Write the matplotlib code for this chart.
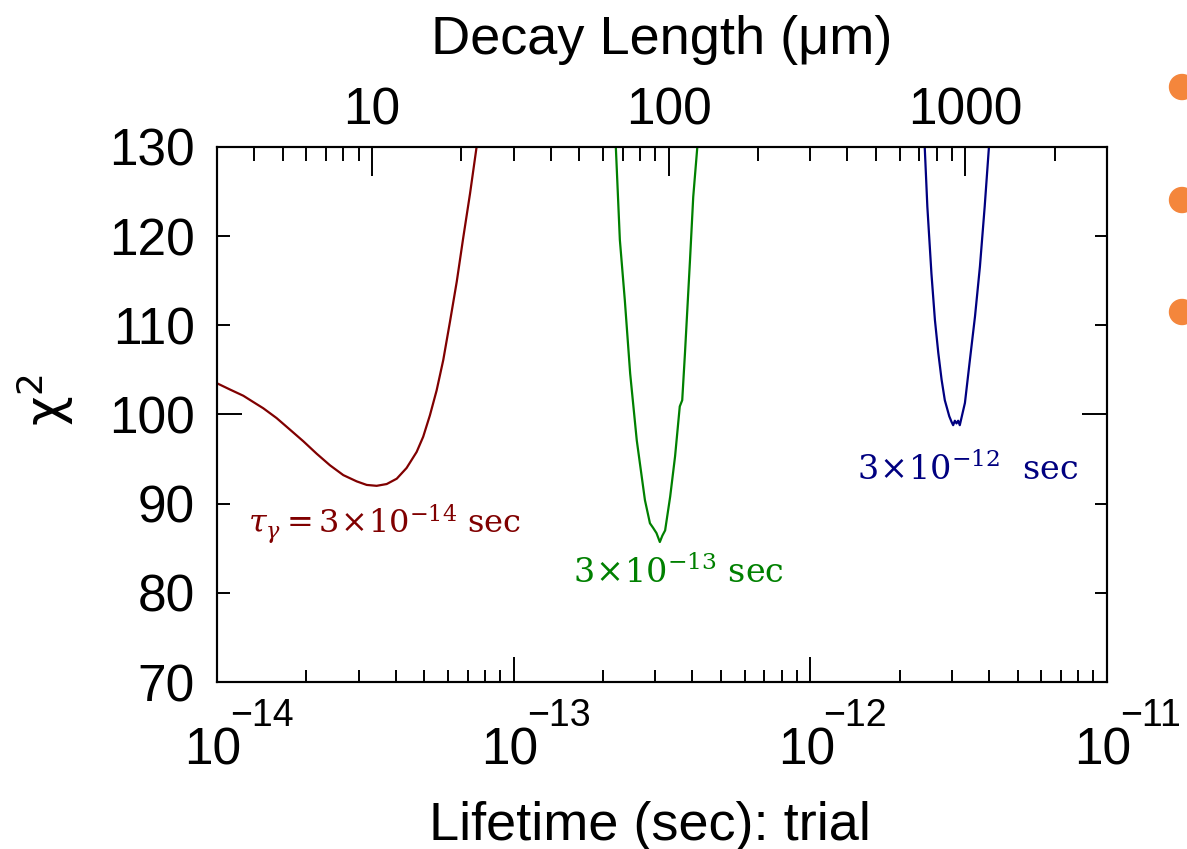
import matplotlib
matplotlib.use('Agg')
import matplotlib.pyplot as plt
from matplotlib import transforms
from matplotlib.patches import Ellipse
from matplotlib.ticker import MultipleLocator, NullFormatter, FuncFormatter, LogLocator

plt.rcParams['font.family'] = ['Liberation Sans', 'DejaVu Sans']

# chi^2 of the fit vs. trial lifetime, one scan per generated lifetime
life_a = [1.00e-14, 1.106e-14, 1.227e-14, 1.325e-14, 1.432e-14, 1.588e-14, 1.762e-14,
          1.954e-14, 2.168e-14, 2.404e-14, 2.666e-14, 2.957e-14, 3.197e-14, 3.453e-14,
          3.733e-14, 4.036e-14, 4.356e-14, 4.710e-14, 4.955e-14, 5.22e-14, 5.50e-14,
          5.79e-14, 6.10e-14, 6.43e-14, 6.76e-14, 7.13e-14, 7.50e-14]
chi2_a = [103.5, 102.8, 102.1, 101.4, 100.7, 99.6, 98.3,
          97.0, 95.6, 94.3, 93.2, 92.5, 92.1, 92.0,
          92.2, 92.8, 94.0, 95.8, 97.5, 99.9, 102.7,
          106.1, 110.4, 114.9, 119.8, 124.8, 130.0]

life_b = [2.21e-13, 2.28e-13, 2.37e-13, 2.47e-13, 2.60e-13, 2.77e-13, 2.88e-13, 2.95e-13,
          3.03e-13, 3.11e-13, 3.17e-13, 3.24e-13, 3.37e-13, 3.50e-13, 3.63e-13, 3.70e-13,
          3.78e-13, 3.93e-13, 4.03e-13, 4.16e-13]
chi2_b = [130.0, 119.6, 112.8, 104.6, 97.1, 90.4, 87.8, 87.3,
          86.7, 85.7, 86.4, 87.0, 90.8, 95.3, 100.9, 101.6,
          106.9, 117.3, 124.4, 130.0]

life_c = [2.43e-12, 2.48e-12, 2.56e-12, 2.63e-12, 2.70e-12, 2.77e-12, 2.84e-12, 2.94e-12,
          2.99e-12, 3.03e-12, 3.07e-12, 3.11e-12, 3.15e-12, 3.19e-12, 3.32e-12, 3.45e-12,
          3.59e-12, 3.73e-12, 3.87e-12, 4.00e-12]
chi2_c = [130.0, 123.3, 115.8, 110.6, 106.9, 103.9, 101.6, 99.8,
          99.2, 98.8, 99.3, 99.0, 99.3, 98.8, 101.3, 106.1,
          111.0, 116.6, 123.3, 130.0]

x_exponents = [-14, -13, -12, -11]
top_ticks = [10, 100, 1000]

C_UM = 3e14  # speed of light in um/s

fig = plt.figure(figsize=(11.87, 8.49), dpi=100)
ax = fig.add_axes([0.1828, 0.1967, 0.7498, 0.6302])

ax.plot(life_a, chi2_a, color='#800000', lw=1.6)
ax.plot(life_b, chi2_b, color='#008000', lw=1.6)
ax.plot(life_c, chi2_c, color='#000080', lw=1.6)

ax.set_xscale('log')
ax.set_xlim(1e-14, 1e-11)
ax.set_ylim(70, 130)

for s in ax.spines.values():
    s.set_linewidth(1.5)

ax.xaxis.set_major_formatter(NullFormatter())
ax.xaxis.set_minor_formatter(NullFormatter())
ax.tick_params(axis='x', which='major', direction='in', length=18, width=1.4, top=False)
ax.tick_params(axis='x', which='minor', direction='in', length=9, width=1.4, top=False)

ax.yaxis.set_major_locator(MultipleLocator(50))
ax.yaxis.set_minor_locator(MultipleLocator(10))
ax.yaxis.set_minor_formatter(FuncFormatter(lambda v, p: '%d' % v))
ax.tick_params(axis='y', which='both', direction='in', right=True, width=1.4,
               labelsize=37, pad=16)
ax.tick_params(axis='y', which='major', length=18)
ax.tick_params(axis='y', which='minor', length=9)

# bottom labels drawn as 10 with a raised exponent
trans = transforms.blended_transform_factory(ax.transData, ax.transAxes)
base = trans + transforms.ScaledTranslation(-0.04, 0, fig.dpi_scale_trans)
off = trans + transforms.ScaledTranslation(0.13, 0, fig.dpi_scale_trans)
for e in x_exponents:
    ax.text(10.0 ** e, -0.155, '10', transform=base, ha='center', va='baseline', fontsize=37)
    ax.text(10.0 ** e, -0.082, '\u2212%d' % abs(e), transform=off, ha='left', va='baseline',
            fontsize=27)

ax.set_xlabel('Lifetime (sec): trial', fontsize=39)
ax.xaxis.set_label_coords(0.4865, -0.222)
ax.set_ylabel(r'$\mathrm{\chi}^2$', fontsize=37, math_fontfamily='dejavusans')
ax.yaxis.set_label_coords(-0.158, 0.527)

# decay length axis: c*tau in micrometres
top = ax.twiny()
top.set_xscale('log')
top.set_xlim(1e-14 * C_UM, 1e-11 * C_UM)
top.set_xticks(top_ticks, labels=[str(t) for t in top_ticks])
top.xaxis.set_minor_locator(LogLocator(subs=range(2, 10)))
top.xaxis.set_minor_formatter(NullFormatter())
top.tick_params(axis='x', which='major', direction='in', length=21, width=1.4, labelsize=37, pad=8)
top.tick_params(axis='x', which='minor', direction='in', length=10, width=1.4)
top.set_xlabel('Decay Length (\u03bcm)', fontsize=39, labelpad=24)
for s in top.spines.values():
    s.set_linewidth(1.5)

ann = dict(family='DejaVu Serif', math_fontfamily='dejavuserif', ha='left', va='baseline')
ax.text(1.27e-14, 86.6, r'$\tau_\gamma = 3\!\times\!10^{-14}$ sec', color='#800000',
        fontsize=23, **ann)
ax.text(1.585e-13, 81.1, r'$3\!\times\!10^{-13}$ sec', color='#008000', fontsize=24, **ann)
ax.text(1.435e-12, 92.7, r'$3\!\times\!10^{-12}$  sec', color='#000080', fontsize=24, **ann)

# slide bullets peeking in from the right edge
for yb in [0.8975, 0.7644, 0.6325]:
    fig.add_artist(Ellipse((0.9958, yb), 25 / 1187, 25 / 849, transform=fig.transFigure,
                           color='#F4863C'))

fig.savefig('out.png', dpi=100)
